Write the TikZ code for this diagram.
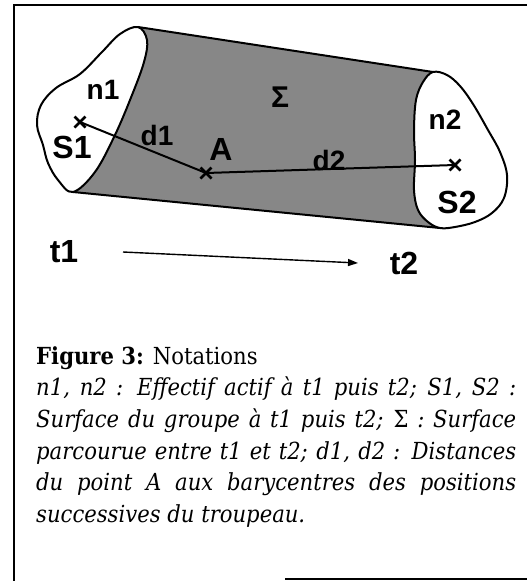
\documentclass[tikz,border=0pt]{standalone}
\usepackage{fontspec}
\setmainfont{DejaVu Serif}[FakeStretch=0.9]
\newfontfamily\labfont{Liberation Sans}
\usetikzlibrary{arrows.meta}
\begin{document}
\begin{tikzpicture}[x=1pt,y=-1pt,
  lab/.style={font=\labfont\bfseries\fontsize{32}{32}\selectfont, inner sep=0},
  labsm/.style={font=\labfont\bfseries\fontsize{28}{28}\selectfont, inner sep=0},
  blob/.style={draw=black, line width=2pt, fill=white},
  edge/.style={line width=2pt},
  capline/.style={anchor=base west, inner sep=0, font=\fontsize{23.5}{27}\selectfont},
  xmark/.style={line width=2.6pt},
  link/.style={line width=2pt}]
\useasboundingbox (0,0) rectangle (527,581);
% frame
\draw[line width=2.6pt] (527,5) -- (14,5);
\draw[line width=2pt] (14,4) -- (14,581);
\draw[line width=2.4pt] (285,579) -- (527,579);
% shaded swept surface
\fill[black!47] (138,27) -- (433,72) -- (440,228) -- (73,192) -- cycle;
\draw[edge] (138,27) -- (433,72);
\draw[edge] (73,192) -- (440,228);
% left blob S1
\draw[blob] plot[smooth cycle, tension=0.6] coordinates {
  (138,27) (120,34) (102,52) (80,74) (56,88) (41,105) (37,125) (43,145)
  (48,163) (58,180) (73,192) (95,172) (115,135) (132,95) (144,62) (147,40)};
% right blob S2
\draw[blob] plot[smooth cycle, tension=0.6] coordinates {
  (433,72) (447,75) (460,86) (473,104) (488,130) (500,152) (507,175)
  (504,198) (492,213) (475,222) (455,227) (440,228) (428,222) (418,210)
  (414,190) (415,160) (414,130) (416,100) (423,82)};
% points
\coordinate (s1c) at (80,122);
\coordinate (ac) at (206,173);
\coordinate (s2c) at (455,165);
\draw[link] (s1c) -- (ac) -- (s2c);
\foreach \p in {s1c,ac,s2c}{
  \draw[xmark] ([shift={(-5.5,-5.5)}]\p) -- ([shift={(5.5,5.5)}]\p);
  \draw[xmark] ([shift={(5.5,-5.5)}]\p) -- ([shift={(-5.5,5.5)}]\p);
}
% labels
\node[labsm] (n1) at (103,90) {n1};
\node[lab] (S1) at (72,147) {S1};
\node[labsm] (d1) at (157,135) {d1};
\node[lab] (A) at (221,149) {A};
\node[font=\labfont\bfseries\fontsize{30}{30}\selectfont, inner sep=0] (sig) at (280,97) {Σ};
\node[labsm] (d2) at (329,160) {d2};
\node[labsm] (n2) at (445,120) {n2};
\node[lab] (S2) at (457,202) {S2};
\node[lab] (t1) at (64,252) {t1};
\node[lab] (t2) at (404,263) {t2};
\coordinate (ta) at (123,252);
\coordinate (tb) at (358,263);
\draw[line width=1.4pt, -{Triangle[length=10pt,width=7pt]}] (ta) -- (tb);
% caption
\node[capline] (c1) at (36,364) {\textbf{Figure 3:} Notations};
\node[capline] (c2) at (36,395) {\itshape\makebox[480pt][s]{n1, n2 : Effectif actif à t1 puis t2; S1, S2 :}};
\node[capline] (c3) at (36,427) {\itshape\makebox[480pt][s]{Surface du groupe à t1 puis t2; {\upshape Σ} : Surface}};
\node[capline] (c4) at (36,459) {\itshape\makebox[480pt][s]{parcourue entre t1 et t2; d1, d2 : Distances}};
\node[capline] (c5) at (36,490) {\itshape\makebox[480pt][s]{du point A aux barycentres des positions}};
\node[capline] (c6) at (36,522) {\itshape successives du troupeau.};
\end{tikzpicture}
\end{document}
